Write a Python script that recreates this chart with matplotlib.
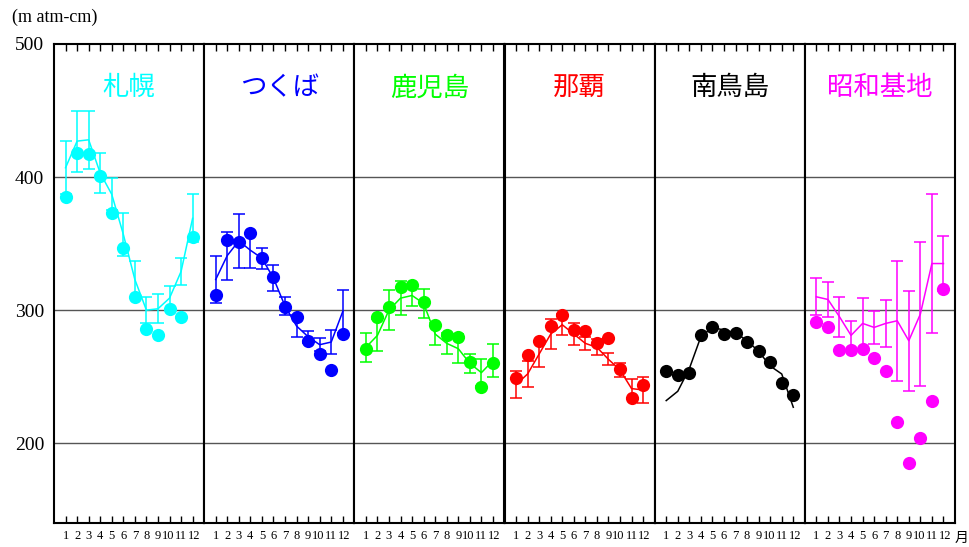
import matplotlib
matplotlib.use("Agg")
import matplotlib.pyplot as plt
import matplotlib.transforms as mtransforms
import numpy as np

months = np.arange(1, 13)
stations = ["札幌", "つくば", "鹿児島", "那覇", "南鳥島", "昭和基地"]
colors = ["#00FFFF", "#0000FF", "#00FF00", "#FF0000", "#000000", "#FF00FF"]

# 各月の値 (m atm-cm): 点 = 当年, 線 = 平年値, エラーバー = 標準偏差
sapporo_obs = [385, 418, 417, 401, 373, 347, 310, 286, 281, 301, 295, 355]
sapporo_mean = [407, 427, 428, 403, 387, 357, 323, 300, 301, 309, 329, 369]
sapporo_sd = [20, 23, 22, 15, 12, 16, 14, 10, 11, 9, 10, 18]

tsukuba_obs = [311, 353, 351, 358, 339, 325, 302, 295, 277, 267, 255, 282]
tsukuba_mean = [323, 341, 352, 345, 339, 324, 303, 288, 280, 274, 276, 299]
tsukuba_sd = [18, 18, 20, 13, 8, 10, 7, 8, 4.5, 5, 9, 16]

kagoshima_obs = [271, 295, 302, 317, 319, 306, 289, 281, 280, 261, 242, 260]
kagoshima_mean = [272, 281, 300, 309, 311, 305, 282, 275, 271, 260, 253, 262]
kagoshima_sd = [11, 12, 15, 13, 8, 11, 8, 8, 11, 7, 10, 12.5]

naha_obs = [249, 266, 277, 288, 296, 285, 284, 275, 279, 256, 234, 244]
naha_mean = [244, 252, 267, 282, 289, 282, 275, 272, 263, 255, 241, 240]
naha_sd = [10, 10, 10, 11, 8, 8, 5, 6, 4.5, 5.5, 7, 9.5]

minamitori_obs = [254, 251, 253, 281, 287, 282, 283, 276, 269, 261, 245, 236]
minamitori_mean = [232, 239, 256, 280, 287, 285, 283, 277, 269, 258, 252, 227]

syowa_obs = [291, 287, 270, 270, 271, 264, 254, 216, 185, 204, 232, 316]
syowa_mean = [310, 308, 295, 281, 290, 287, 290, 292, 277, 297, 335, 335]
syowa_sd = [14, 13, 15, 11, 19, 12.5, 17.5, 45, 37.5, 54, 52, 21]

obs_list = [sapporo_obs, tsukuba_obs, kagoshima_obs, naha_obs, minamitori_obs, syowa_obs]
mean_list = [sapporo_mean, tsukuba_mean, kagoshima_mean, naha_mean, minamitori_mean, syowa_mean]
sd_list = [sapporo_sd, tsukuba_sd, kagoshima_sd, naha_sd, None, syowa_sd]

yticks = [200, 300, 400, 500]

W, H = 970, 547
fig = plt.figure(figsize=(W / 100, H / 100), dpi=100)

left, right, top, bottom = 54, 955, 44, 523
pw = (right - left) / 6
serif = "Liberation Serif"
cjk = ["Noto Sans CJK JP", "DejaVu Sans"]

for i in range(6):
    ax = fig.add_axes([(left + i * pw) / W, 1 - bottom / H, pw / W, (bottom - top) / H])
    ax.set_xlim(0, 13)
    ax.set_ylim(140, 500)
    for y in [200, 300, 400]:
        ax.axhline(y, color="#555555", lw=1.0, zorder=1)

    c = colors[i]
    if sd_list[i] is not None:
        ax.errorbar(months, mean_list[i], yerr=sd_list[i], color=c, lw=1.1,
                    elinewidth=1.1, capsize=4, capthick=1.1, zorder=2)
    else:
        ax.plot(months, mean_list[i], color=c, lw=1.1, zorder=2)
    ax.plot(months, obs_list[i], "o", color=c, ms=9.5, mec="none", zorder=3)

    ax.text(6.5, 467, stations[i], color=c, fontsize=19, family=cjk,
            ha="center", va="center")

    ax.set_xticks(months)
    ax.set_xticklabels([str(m) for m in months], fontsize=9, family=serif)
    ax.tick_params(axis="x", direction="in", top=True, length=5, width=1, pad=5)
    # 10 と 12 を少しずらして重なりを避ける
    labs = ax.get_xticklabels()
    for k, dx in [(9, -1.5), (11, 1.5)]:
        off = mtransforms.ScaledTranslation(dx / 100, 0, fig.dpi_scale_trans)
        labs[k].set_transform(labs[k].get_transform() + off)

    if i == 0:
        ax.set_yticks(yticks)
        ax.set_yticklabels([str(v) for v in yticks], fontsize=14, family=serif)
        ax.tick_params(axis="y", length=0, pad=7)
    else:
        ax.set_yticks([])

    for sp in ax.spines.values():
        sp.set_linewidth(1.5)
        sp.set_color("black")

fig.text(12 / W, 1 - 17 / H, "(m atm-cm)", fontsize=13, family=serif,
         ha="left", va="center")
fig.text(962 / W, 1 - 538 / H, "月", fontsize=10, family=cjk,
         ha="center", va="center")

fig.savefig("out.png", dpi=100)
